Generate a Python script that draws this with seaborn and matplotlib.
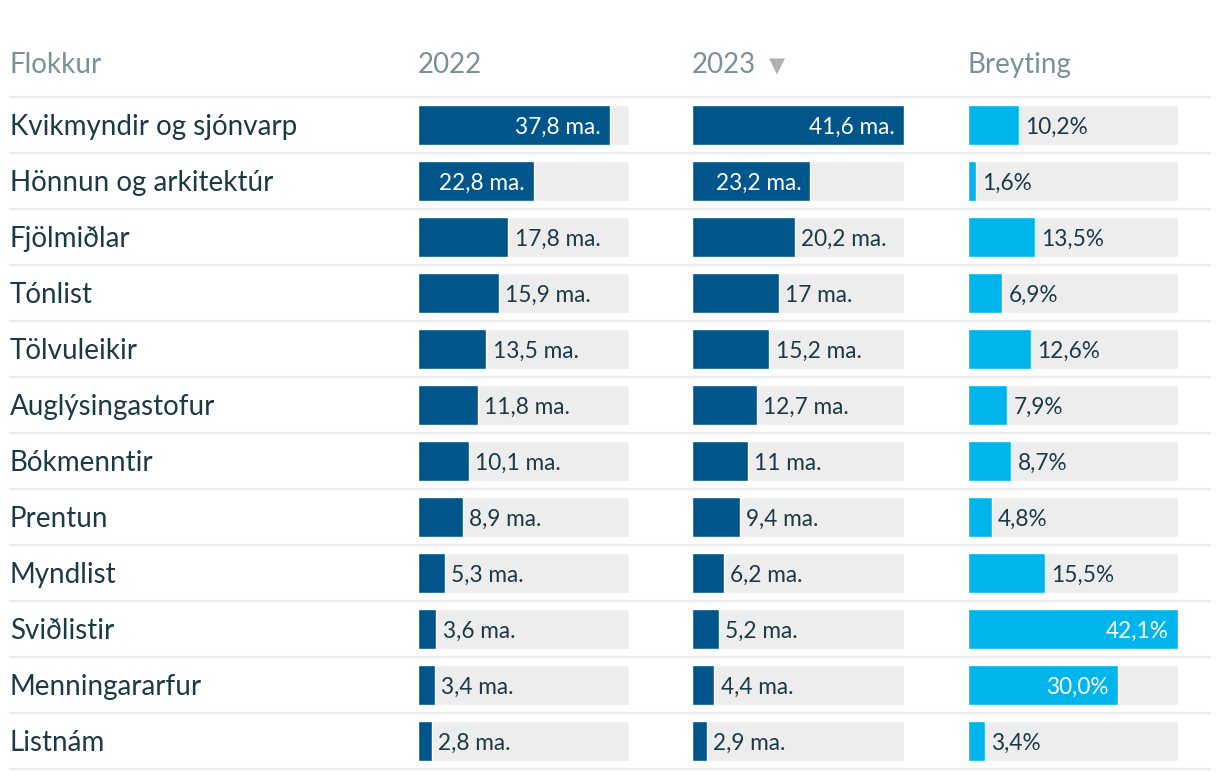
import matplotlib
matplotlib.use("Agg")
import matplotlib.pyplot as plt
import seaborn as sns
import pandas as pd

sns.set_style("white")
plt.rcParams['font.family'] = ['Lato', 'DejaVu Sans']

categories = ["Kvikmyndir og sjónvarp", "Hönnun og arkitektúr", "Fjölmiðlar", "Tónlist",
              "Tölvuleikir", "Auglýsingastofur", "Bókmenntir", "Prentun", "Myndlist",
              "Sviðlistir", "Menningararfur", "Listnám"]
v2022 = [37.8, 22.8, 17.8, 15.9, 13.5, 11.8, 10.1, 8.9, 5.3, 3.6, 3.4, 2.8]
v2023 = [41.6, 23.2, 20.2, 17.0, 15.2, 12.7, 11.0, 9.4, 6.2, 5.2, 4.4, 2.9]
change = [10.2, 1.6, 13.5, 6.9, 12.6, 7.9, 8.7, 4.8, 15.5, 42.1, 30.0, 3.4]
headers = ["Flokkur", "2022", "2023", "Breyting"]

DARK = "#00558a"
LIGHT = "#00b5ec"
TRACK = "#ededed"
TEXT = "#1c3a45"
HEAD = "#7b9196"
LINE = "#ebebeb"

W, H = 1220, 780
fig = plt.figure(figsize=(W / 100, H / 100), dpi=100)

top_px, bot_px = 97, 769
n = len(categories)
CAT_FS = 20
HEAD_FS = 20
VAL_FS = 16.3
DY = -1.5  # points, small downward nudge for optical centering

def axes_px(x0, x1):
    return fig.add_axes([x0 / W, 1 - bot_px / H, (x1 - x0) / W, (bot_px - top_px) / H])

# background axes for separators / category labels
bg = axes_px(10, 1210)
bg.set_xlim(0, 1)
bg.set_ylim(n - 0.5, -0.5)
bg.axis("off")
for k in range(n + 1):
    bg.axhline(k - 0.5, color=LINE, lw=1.6, clip_on=False, zorder=0)
for i, c in enumerate(categories):
    bg.annotate(c, (0, i), xytext=(0, DY), textcoords="offset points",
                ha="left", va="center", fontsize=CAT_FS, color=TEXT)
bg.annotate(headers[0], (0, -1.1), xytext=(0, DY), textcoords="offset points",
            ha="left", va="center", fontsize=HEAD_FS, color=HEAD, annotation_clip=False)

df = pd.DataFrame({"cat": categories, "v2022": v2022, "v2023": v2023, "change": change})
max_ma = max(max(v2022), max(v2023))
max_pct = max(change)

def fmt_ma(v):
    return f"{v:g}".replace(".", ",") + " ma."

def fmt_pct(v):
    return f"{v:.1f}".replace(".", ",") + "%"

cols = [
    (418, 629, "v2022", DARK, max_ma, fmt_ma, headers[1]),
    (692, 904, "v2023", DARK, max_ma, fmt_ma, headers[2]),
    (968, 1178, "change", LIGHT, max_pct, fmt_pct, headers[3]),
]

for x0, x1, key, color, vmax, fmt, head in cols:
    ax = axes_px(x0, x1)
    track = pd.DataFrame({"cat": categories, "v": [vmax] * n})
    sns.barplot(data=track, x="v", y="cat", orient="h", color=TRACK, saturation=1,
                width=40 / 56, ax=ax, zorder=1)
    sns.barplot(data=df, x=key, y="cat", orient="h", color=color, saturation=1,
                width=40 / 56, ax=ax, zorder=2)
    ax.set_xlim(0, vmax)
    ax.set_ylim(n - 0.5, -0.5)
    ax.axis("off")
    for i, v in enumerate(df[key]):
        if v / vmax > 0.5:
            ax.annotate(fmt(v), (v, i), xytext=(-6.5, DY), textcoords="offset points",
                        ha="right", va="center", fontsize=VAL_FS, color="white", zorder=3)
        else:
            ax.annotate(fmt(v), (v, i), xytext=(4.5, DY), textcoords="offset points",
                        ha="left", va="center", fontsize=VAL_FS, color=TEXT, zorder=3)
    ax.annotate(head, (0, -1.1), xytext=(0, DY), textcoords="offset points",
                ha="left", va="center", fontsize=HEAD_FS, color=HEAD, annotation_clip=False)
    if key == "v2023":
        ax.annotate("▼", (0, -1.1), xytext=(55.5, DY - 0.5), textcoords="offset points",
                    ha="left", va="center", fontsize=15, color="#b0b0b0",
                    family=["DejaVu Sans"], annotation_clip=False)

fig.savefig("out.png", dpi=100, facecolor="white")
